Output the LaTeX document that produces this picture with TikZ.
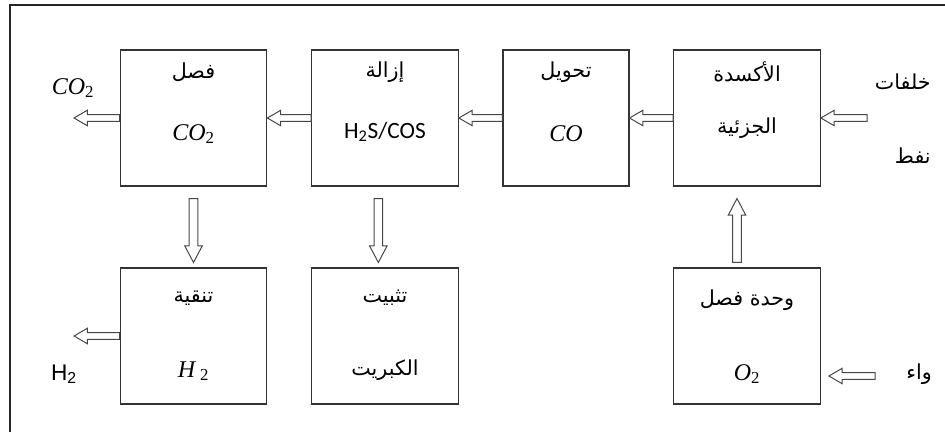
\documentclass[tikz,border=0pt]{standalone}
\usepackage{fontspec}
\setmainfont{Liberation Serif}
\newfontfamily\arabicfont[Script=Arabic]{DejaVu Sans}
\newfontfamily\calibrifont{Carlito}
\newfontfamily\arialfont{Liberation Sans}
\TeXXeTstate=1
\usetikzlibrary{calc}

\newcommand{\ar}[1]{{\arabicfont\fontsize{15.5}{18}\selectfont\beginR #1\endR}}
\newcommand{\chem}[2]{\textit{#1}\textsubscript{#2}}

\tikzset{
  box/.style={draw=black!80, line width=0.8pt, minimum width=110pt, minimum height=102pt, inner sep=0pt},
  flow/.style n args={3}{draw=black!72, fill=white, line width=0.75pt, line join=miter,
    to path={
      ($(\tikztotarget)!#3!(\tikztostart)$) coordinate (hb)
      ($(\tikztostart)!#1!90:(\tikztotarget)$) -- ($(hb)!#1!90:(\tikztotarget)$)
      -- ($(hb)!#2!90:(\tikztotarget)$) -- (\tikztotarget)
      -- ($(hb)!#2!-90:(\tikztotarget)$) -- ($(hb)!#1!-90:(\tikztotarget)$)
      -- ($(\tikztostart)!#1!-90:(\tikztotarget)$) -- cycle}},
  hflow/.style={flow={2.5pt}{5.8pt}{10pt}},
  vflow/.style={flow={3.2pt}{6.6pt}{12.5pt}},
}

\begin{document}
\begin{tikzpicture}[x=0.75pt, y=-0.75pt, font=\fontsize{18}{21}\selectfont]
\useasboundingbox (0,0) rectangle (945,432);
\draw[line width=1.4pt, black!85] (10,432) -- (10,5) -- (945,5);

% boxes
\node[box] (sep) at (193.5,118) {};
\node[box] (rem) at (385,118) {};
\node[box, minimum width=94.5pt] (shift) at (566,118) {};
\node[box] (pox) at (747,118) {};
\node[box] (pur) at (193.5,336) {};
\node[box] (sul) at (385,336) {};
\node[box] (asu) at (747,336) {};

% box texts
\node (sep-a) at (193.5,72) {\ar{فصل}};
\node (sep-b) at (193.5,134) {\chem{CO}{2}};
\node (rem-a) at (385,72) {\ar{إزالة}};
\node (rem-b) at (385,132) {\calibrifont\fontsize{17.5}{20}\selectfont H\textsubscript{2}S/COS};
\node (shift-a) at (566,72) {\ar{تحويل}};
\node (shift-b) at (566,134) {\textit{CO}};
\node (pox-a) at (747,72) {\ar{الأكسدة}};
\node (pox-b) at (747,128) {\ar{الجزئية}};
\node (pur-a) at (193.5,298) {\ar{تنقية}};
\node (pur-b) at (193.5,371) {\textit{H}\,\textsubscript{2}};
\node (sul-a) at (385,298) {\ar{تثبيت}};
\node (sul-b) at (385,370) {\ar{الكبريت}};
\node (asu-a) at (747,300) {\ar{وحدة فصل}};
\node (asu-b) at (747,374) {\chem{O}{2}};

% outer labels
\node (co2-lbl) at (73,88) {\chem{CO}{2}};
\node (h2-lbl) at (64,374) {\arialfont\fontsize{17}{20}\selectfont H\textsubscript{2}};
\node[anchor=east, inner sep=0pt] (res-a) at (931,82) {\ar{خلفات}};
\node[anchor=east, inner sep=0pt] (res-b) at (931,156) {\ar{نفط}};
\node[anchor=east, inner sep=0pt] (air-lbl) at (932,374) {\ar{واء}};

\coordinate (co2out) at (74,118);
\coordinate (h2out) at (74,336);
\coordinate (resin) at (867,118);
\coordinate (airin) at (875,376);

% arrows
\draw[hflow] (sep.west) to (co2out);
\draw[hflow] (rem.west) to (sep.east);
\draw[hflow] (shift.west) to (rem.east);
\draw[hflow] (pox.west) to (shift.east);
\draw[hflow] (resin) to (pox.east);
\draw[hflow] (pur.west) to (h2out);
\draw[hflow] (airin) to ([xshift=6pt]asu.east |- airin);
\draw[vflow] ([yshift=-9pt]sep.south) to ([yshift=3.75pt]pur.north);
\draw[vflow] ([xshift=-5pt,yshift=-9pt]rem.south) to ([xshift=-5pt,yshift=3.75pt]sul.north);
\draw[vflow] ([xshift=-7.5pt,yshift=3.75pt]asu.north) to ([xshift=-7.5pt,yshift=-9pt]pox.south);
\end{tikzpicture}
\end{document}
